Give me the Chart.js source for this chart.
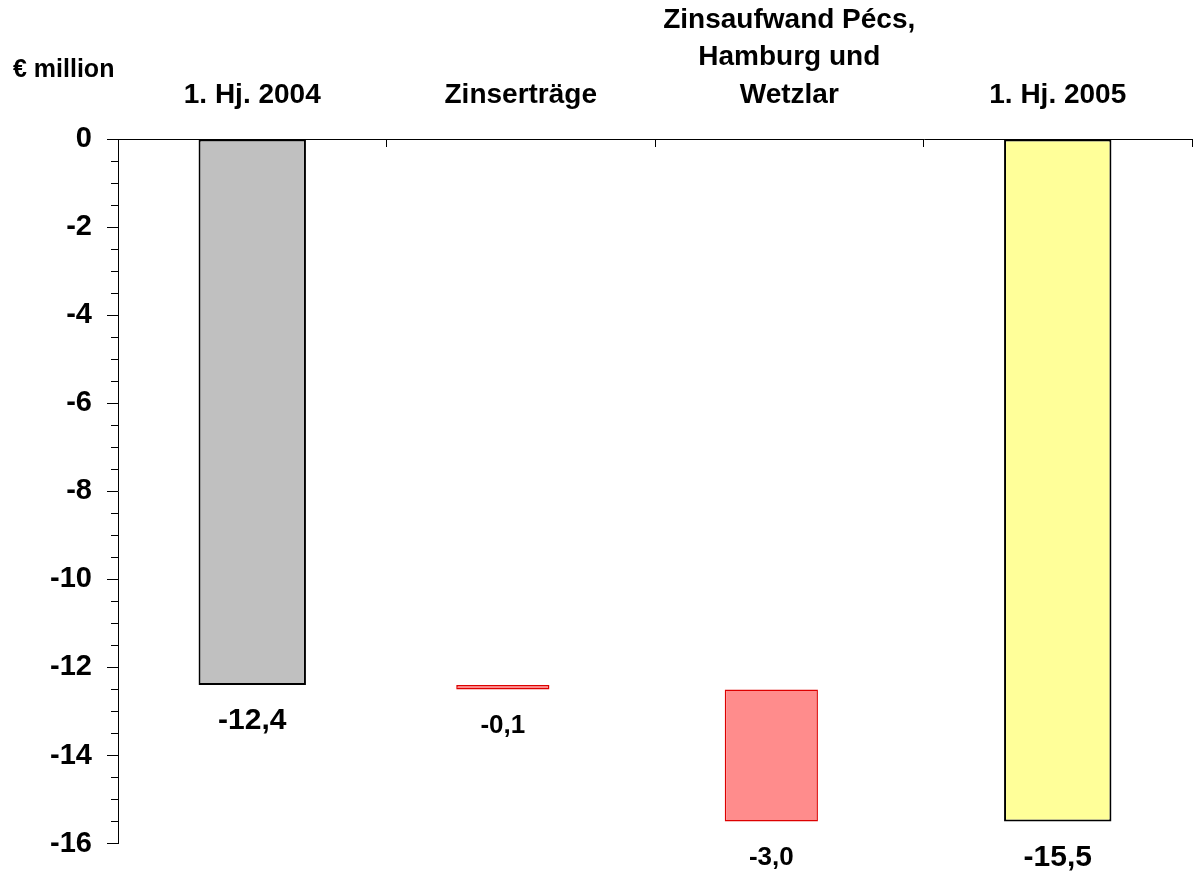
<!DOCTYPE html>
<html>
<head>
<meta charset="utf-8">
<script src="https://cdn.jsdelivr.net/npm/chart.js@4/dist/chart.umd.min.js"></script>
<style>
  html, body { margin: 0; padding: 0; background: #ffffff; }
  #wrap { width: 1198px; height: 876px; }
</style>
</head>
<body>
<div id="wrap"><canvas id="chart" width="1198" height="876"></canvas></div>
<script>
// Zinsergebnis: Überleitung 1. Hj. 2004 → 1. Hj. 2005 (€ million)
const categories = [
  ['1. Hj. 2004'],
  ['Zinserträge'],
  ['Zinsaufwand Pécs,', 'Hamburg und', 'Wetzlar'],
  ['1. Hj. 2005']
];
const totalValues = [-12.4, null, null, -15.5];
const changeValues = [null, -0.1, -3.0, null];
const yMajorTicks = [0, -2, -4, -6, -8, -10, -12, -14, -16];
const unitLabel = '€ million';

const FONT = "'Liberation Sans', Arial, Helvetica, sans-serif";

// Each change bar floats from the running total to the new running total.
let running = 0;
const changeRanges = changeValues.map((d, i) => {
  if (totalValues[i] !== null) { running = totalValues[i]; return null; }
  const start = running;
  running = Math.round((running + d) * 10) / 10;
  return [start, running];
});

const isMajor = v => yMajorTicks.includes(v);
const fmt = v => v.toFixed(1).replace('.', ',');

// Value labels under each bar.
const valueLabels = {
  id: 'valueLabels',
  afterDatasetsDraw(chart) {
    const ctx = chart.ctx;
    ctx.save();
    ctx.fillStyle = '#000000';
    ctx.textAlign = 'center';
    ctx.textBaseline = 'middle';
    chart.data.datasets.forEach((ds, di) => {
      if (!ds.labelValues) return;
      const meta = chart.getDatasetMeta(di);
      meta.data.forEach((bar, i) => {
        const v = ds.labelValues[i];
        if (v === null || v === undefined) return;
        const bottom = Math.max(bar.y, bar.base);
        ctx.font = 'bold ' + ds.labelSize + 'px ' + FONT;
        ctx.fillText(fmt(v), bar.x, bottom + 36);
      });
    });
    ctx.restore();
  }
};

// Unit caption above the value axis.
const unitCaption = {
  id: 'unitCaption',
  afterDraw(chart) {
    const ctx = chart.ctx;
    ctx.save();
    ctx.fillStyle = '#000000';
    ctx.font = 'bold 25px ' + FONT;
    ctx.textAlign = 'left';
    ctx.textBaseline = 'middle';
    ctx.fillText(unitLabel, 13, chart.chartArea.top - 69);
    ctx.restore();
  }
};

new Chart(document.getElementById('chart'), {
  type: 'bar',
  data: {
    labels: categories,
    datasets: [
      {
        label: 'Stand',
        data: totalValues,
        labelValues: totalValues,
        labelSize: 30,
        grouped: false,
        categoryPercentage: 1,
        barPercentage: 0.4,
        backgroundColor: ['#C0C0C0', null, null, '#FFFF99'],
        borderColor: '#000000',
        borderWidth: 2,
        borderSkipped: false
      },
      {
        label: 'Veränderung',
        data: changeRanges,
        labelValues: changeValues,
        labelSize: 26,
        // narrower bars, set slightly left of the category centre
        categoryPercentage: 0.267,
        barPercentage: 2.6,
        backgroundColor: '#FF8C8C',
        borderColor: '#DD0000',
        borderWidth: 1.5,
        borderSkipped: false
      },
      {
        label: '',
        data: [null, null, null, null],
        categoryPercentage: 0.267,
        barPercentage: 2.6,
        backgroundColor: 'rgba(0,0,0,0)',
        borderWidth: 0
      }
    ]
  },
  options: {
    responsive: false,
    devicePixelRatio: 1,
    animation: false,
    layout: { padding: { top: 0, left: 0, right: 6, bottom: 32 } },
    plugins: {
      legend: { display: false },
      tooltip: { enabled: false },
      title: { display: false }
    },
    scales: {
      x: {
        position: 'top',
        offset: true,
        grid: {
          offset: true,
          drawOnChartArea: false,
          drawTicks: true,
          tickLength: -8,
          color: '#000000',
          tickColor: '#000000',
          lineWidth: 1
        },
        border: { display: true, color: '#000000', width: 1 },
        ticks: {
          autoSkip: false,
          maxRotation: 0,
          minRotation: 0,
          padding: 33,
          color: '#000000',
          font: { family: FONT, size: 28, weight: 'bold', lineHeight: 1.34 }
        },
        afterFit(scale) { scale.height = 139; }
      },
      y: {
        min: -16,
        max: 0,
        grid: {
          drawOnChartArea: false,
          drawTicks: true,
          tickLength: 11,
          color: '#000000',
          tickColor: '#000000',
          tickBorderDash: ctx => (ctx.tick && isMajor(ctx.tick.value)) ? [] : [7, 4],
          tickBorderDashOffset: ctx => (ctx.tick && isMajor(ctx.tick.value)) ? 0 : 7
        },
        border: { display: true, color: '#000000', width: 1 },
        ticks: {
          stepSize: 0.5,
          autoSkip: false,
          padding: 15,
          color: '#000000',
          font: { family: FONT, size: 29, weight: 'bold' },
          callback: v => isMajor(v) ? String(v) : ''
        },
        afterFit(scale) { scale.width = 118; }
      }
    }
  },
  plugins: [valueLabels, unitCaption]
});
</script>
</body>
</html>
